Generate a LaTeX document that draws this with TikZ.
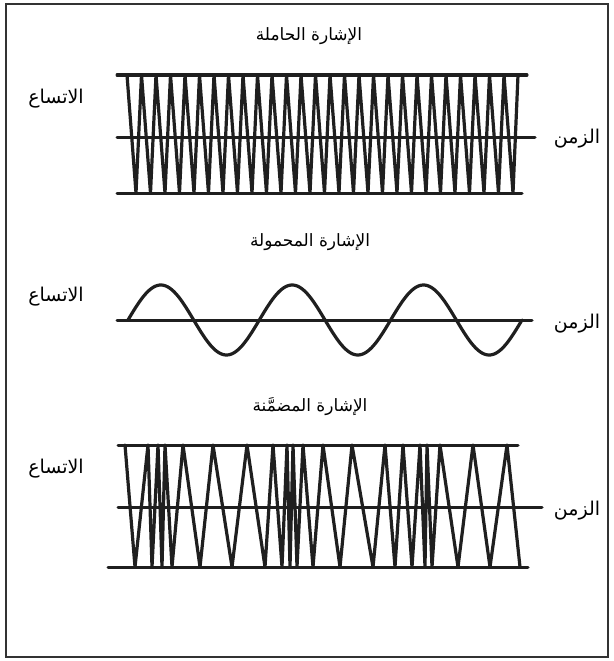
\documentclass[tikz,border=0pt]{standalone}
\usepackage{fontspec}
\newfontfamily\arabicfont[Script=Arabic]{DejaVu Sans}
\TeXXeTstate=1
\begin{document}
\begin{tikzpicture}[x=1pt,y=-1pt,
  wave/.style={line width=3.2pt, line join=round, line cap=round, black!88},
  axis/.style={line width=3pt, line cap=round, black!88},
  frame/.style={line width=2pt, black!80},
  title/.style={font=\arabicfont\fontsize{17}{20}\selectfont, anchor=center},
  lab/.style={font=\arabicfont\fontsize{19}{22}\selectfont, anchor=center}]
\useasboundingbox (0,0) rectangle (613,661);
\draw[frame] (6,4) rectangle (608,657);

% ---------- carrier ----------
\node[title] (t1) at (309,36) {\beginR الإشارة الحاملة\endR};
\node[lab] (a1) at (56,99) {\beginR الاتساع\endR};
\node[lab] (z1) at (577,139) {\beginR الزمن\endR};
\draw[axis] (117,75) -- (527,75);
\draw[axis] (117,137) -- (535,137);
\draw[axis] (117,193) -- (522,193);
\draw[wave] (127,75) foreach \k in {0,...,26} { -- ({127+14.5*\k},75) -- ({136+14.5*\k},193) } -- (518,75);

% ---------- modulating ----------
\node[title] (t2) at (310,242) {\beginR الإشارة المحمولة\endR};
\node[lab] (a2) at (56,297) {\beginR الاتساع\endR};
\node[lab] (z2) at (577,324) {\beginR الزمن\endR};
\draw[axis] (117,320) -- (532,320);
\draw[wave] plot[domain=128:522, samples=240, smooth] (\x,{320-35*sin((\x-128)/131.33*360)});

% ---------- modulated ----------
\node[title] (t3) at (310,407) {\beginR الإشارة المضمَّنة\endR};
\node[lab] (a3) at (56,469) {\beginR الاتساع\endR};
\node[lab] (z3) at (577,511) {\beginR الزمن\endR};
\draw[axis] (118,445) -- (518,445);
\draw[axis] (118,507) -- (542,507);
\draw[axis] (108,567) -- (528,567);
\draw[wave] (125,445)
  -- (135,567) -- (148,445) -- (152,567) -- (158,445) -- (162,567)
  -- (165,445) -- (172,567) -- (183,445) -- (200,567) -- (213,445)
  -- (232,567) -- (247,445) -- (265,567) -- (273,445) -- (282,567)
  -- (287,445) -- (290,567) -- (293,445) -- (297,567) -- (303,445)
  -- (313,567) -- (323,445) -- (340,567) -- (352,445) -- (373,567)
  -- (385,445) -- (395,567) -- (403,445) -- (412,567) -- (420,445)
  -- (425,567) -- (427,445) -- (432,567) -- (440,445) -- (458,567)
  -- (473,445) -- (490,567) -- (507,445) -- (520,567);
\end{tikzpicture}
\end{document}
